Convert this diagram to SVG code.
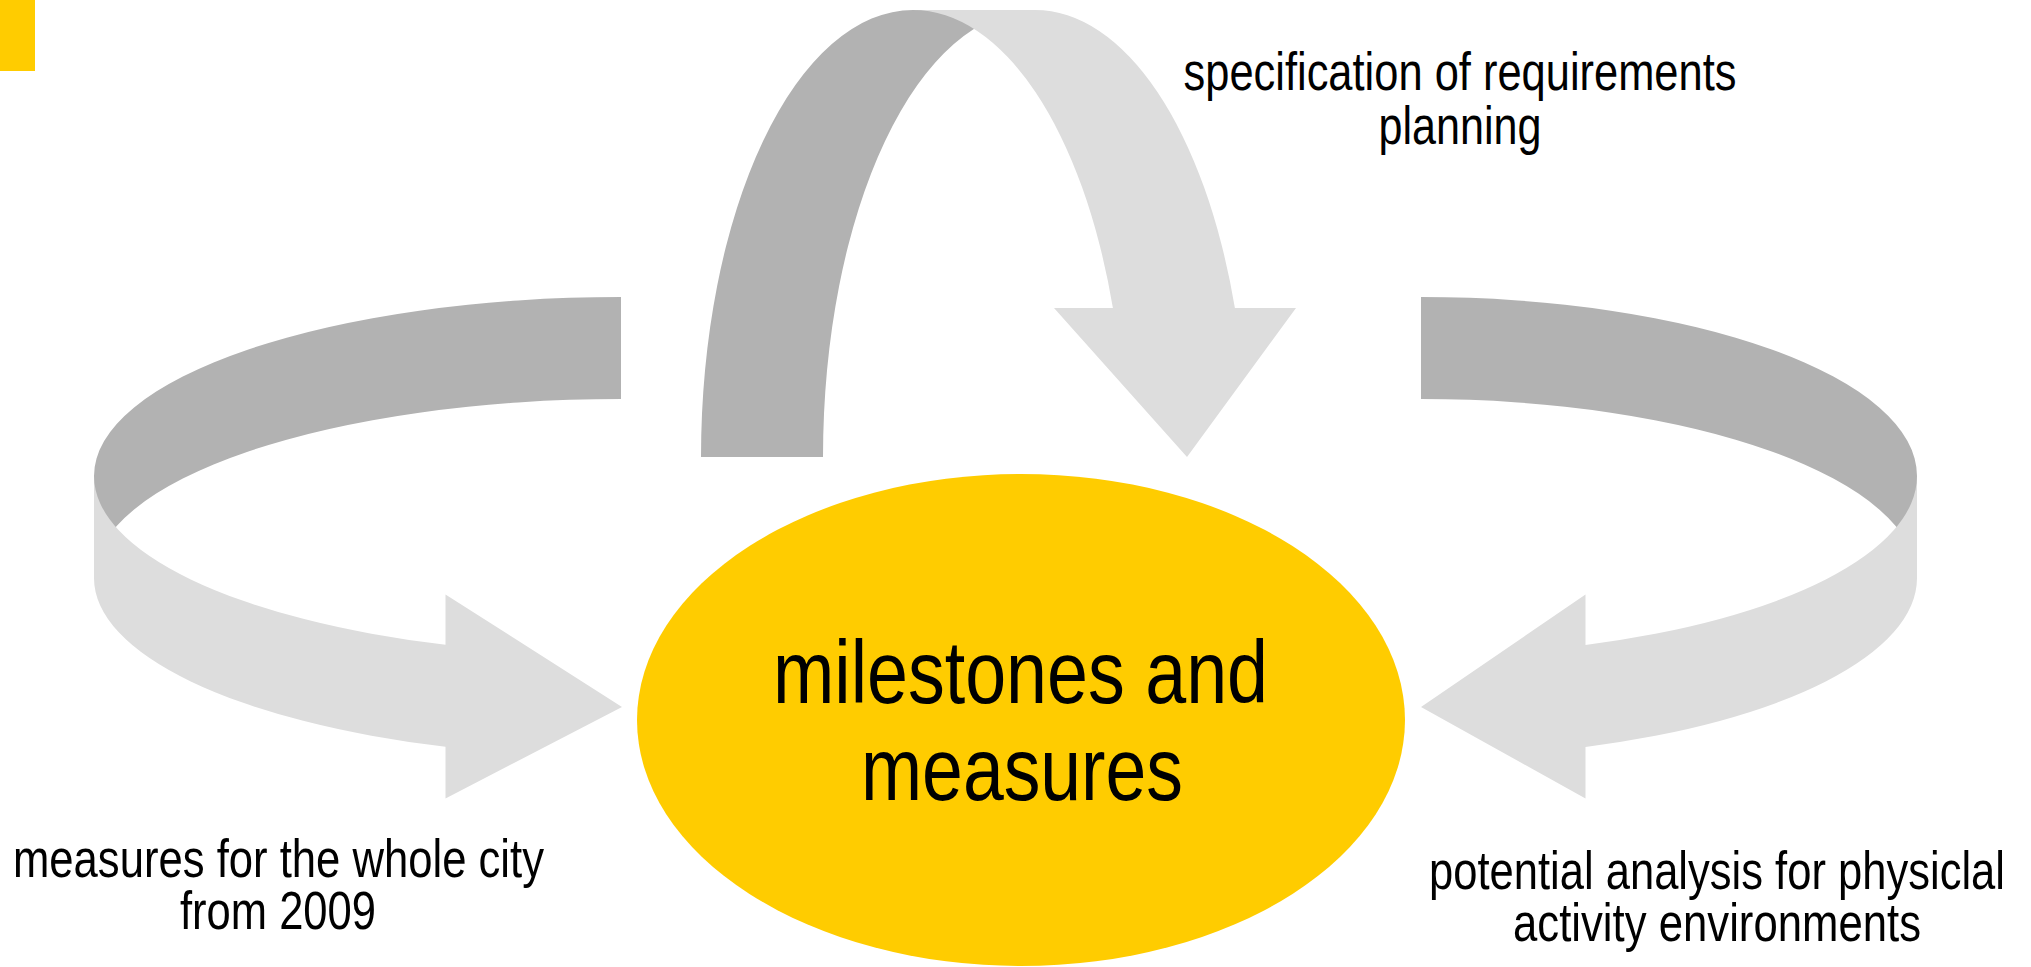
<svg xmlns="http://www.w3.org/2000/svg" width="2031" height="967" viewBox="0 0 2031 967">
<style>
.dark{fill:#B2B2B2}
.light{fill:#DDDDDD}
.lbl{font-family:"Liberation Sans Narrow","Arial Narrow","Liberation Sans",Arial,sans-serif;font-size:53px;fill:#000;text-anchor:middle}
.ctr{font-family:"Liberation Sans Narrow","Arial Narrow","Liberation Sans",Arial,sans-serif;font-size:89px;fill:#000;text-anchor:middle}
</style>
<rect width="2031" height="967" fill="#FFFFFF"/>
<rect id="accent" x="0" y="0" width="35" height="71" fill="#FFCC00"/>
<g id="connectors">
  <g id="arrow-left">
    <path class="dark" d="M621,297 A527,179 0 0 0 94,476 L94,578 A527,179 0 0 1 621,399 Z"/>
    <path class="light" d="M94,476 A527,179 0 0 0 445.5,644.8 L445.5,594.5 L622,707 L445.5,798.5 L445.5,746.8 A527,179 0 0 1 94,578 Z"/>
  </g>
  <g id="arrow-top">
    <path class="dark" d="M701,457 A212,447 0 0 1 913,10 L1035,10 A212,447 0 0 0 823,457 Z"/>
    <path class="light" d="M913,10 L1035,10 A212,447 0 0 1 1234.9,308 L1296,308 L1187,457 L1054,308 L1112.9,308 A212,447 0 0 0 913,10 Z"/>
  </g>
  <g id="arrow-right">
    <path class="dark" d="M1421,297 A496,179 0 0 1 1917,476 L1917,578 A496,179 0 0 0 1421,399 Z"/>
    <path class="light" d="M1917,476 A496,179 0 0 1 1585.5,644.9 L1585.5,594.5 L1421,707 L1585.5,798.5 L1585.5,746.9 A496,179 0 0 0 1917,578 Z"/>
  </g>
</g>
<g id="node-center">
  <ellipse cx="1021" cy="720" rx="384" ry="246" fill="#FFCC00"/>
  <text class="ctr" x="1020.5" y="703" textLength="495" lengthAdjust="spacingAndGlyphs">milestones and</text>
  <text class="ctr" x="1022" y="800" textLength="322" lengthAdjust="spacingAndGlyphs">measures</text>
</g>
<g id="label-top">
  <text class="lbl" x="1460" y="90" textLength="553" lengthAdjust="spacingAndGlyphs">specification of requirements</text>
  <text class="lbl" x="1460" y="144" textLength="163" lengthAdjust="spacingAndGlyphs">planning</text>
</g>
<g id="label-left">
  <text class="lbl" x="278.5" y="877" textLength="531" lengthAdjust="spacingAndGlyphs">measures for the whole city</text>
  <text class="lbl" x="278" y="929" textLength="196" lengthAdjust="spacingAndGlyphs">from 2009</text>
</g>
<g id="label-right">
  <text class="lbl" x="1717" y="889" textLength="576" lengthAdjust="spacingAndGlyphs">potential analysis for physiclal</text>
  <text class="lbl" x="1717" y="941" textLength="408" lengthAdjust="spacingAndGlyphs">activity environments</text>
</g>
</svg>
